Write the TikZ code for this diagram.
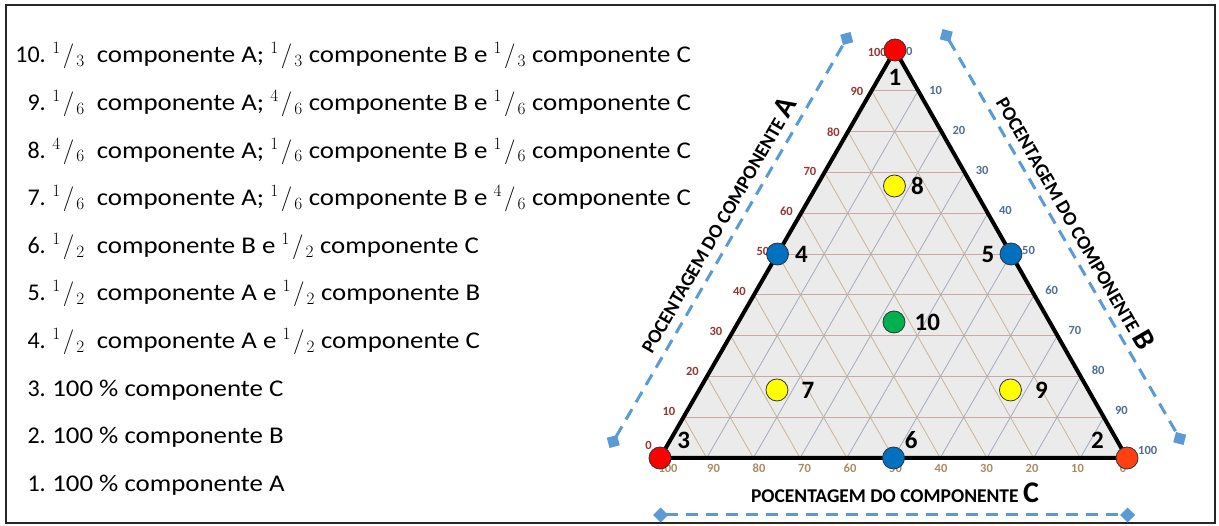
\documentclass[tikz,border=0pt]{standalone}
\usepackage{fontspec}
\setmainfont{Carlito}
\newfontfamily\listfont[FakeStretch=1.12]{Carlito}
\usetikzlibrary{arrows.meta,positioning,calc}

\definecolor{lineA}{HTML}{CDA6A6}
\definecolor{lineB}{HTML}{A3ABBD}
\definecolor{lineC}{HTML}{C9B497}
\definecolor{tickA}{HTML}{953735}
\definecolor{tickB}{HTML}{4F6E92}
\definecolor{tickC}{HTML}{A88A63}
\definecolor{guideblue}{HTML}{5B9BD5}
\definecolor{areagray}{HTML}{EBEBEB}
\definecolor{ptred}{HTML}{FF0000}
\definecolor{ptorange}{HTML}{FF4010}
\definecolor{ptblue}{HTML}{0070C0}
\definecolor{ptyellow}{HTML}{FFFF00}
\definecolor{ptgreen}{HTML}{00B050}

\newcommand{\fr}[2]{${}^{#1}\mkern1.5mu/\mkern1.5mu{}_{#2}$}

\begin{document}
\begin{tikzpicture}[x=1pt,y=-1pt,
  listnum/.style={inner sep=0pt, font=\fontsize{24}{28}\selectfont},
  listtxt/.style={inner sep=0pt, font=\listfont\fontsize{24}{28}\selectfont},
  marker/.style={circle, draw=black!80, line width=0.8pt, minimum size=22pt, inner sep=0pt},
  ptnum/.style={font=\fontsize{25}{30}\selectfont\bfseries, inner sep=1pt},
  tick/.style={font=\fontsize{12.5}{14}\selectfont\bfseries, inner sep=1pt},
  axtitle/.style={font=\fontsize{19.5}{22}\selectfont\bfseries, inner sep=0pt},
  guide/.style={guideblue, line width=3pt, dash pattern=on 12pt off 8pt,
    {Diamond[length=15pt,width=15pt]}-{Diamond[length=15pt,width=15pt]}}
]
\useasboundingbox (0,0) rectangle (1219,526);
\draw[line width=1.5pt, black!85] (6,5) rectangle (1215,523);

% list of mixtures
\foreach \n/\t [count=\i from 0] in {
  10/{\fr{1}{3}\ \ componente A; \fr{1}{3} componente B e \fr{1}{3} componente C},
  9/{\fr{1}{6}\ \ componente A; \fr{4}{6} componente B e \fr{1}{6} componente C},
  8/{\fr{4}{6}\ \ componente A; \fr{1}{6} componente B e \fr{1}{6} componente C},
  7/{\fr{1}{6}\ \ componente A; \fr{1}{6} componente B e \fr{4}{6} componente C},
  6/{\fr{1}{2}\ \ componente B e \fr{1}{2} componente C},
  5/{\fr{1}{2}\ \ componente A e \fr{1}{2} componente B},
  4/{\fr{1}{2}\ \ componente A e \fr{1}{2} componente C},
  3/{100 \% componente C},
  2/{100 \% componente B},
  1/{100 \% componente A}} {
  \node[listnum, anchor=base east] (n\n) at (46,{63+47.6*\i}) {\n.};
  \node[listtxt, anchor=base west] (t\n) at (n\n.base east) {\ \t};
}

% triangle and grid
\coordinate (T) at (895,50);
\coordinate (R) at (1127,458);
\coordinate (L) at (660,458);
\fill[areagray] (L) -- (R) -- (T) -- cycle;
\foreach \k in {1,...,9} {
  \draw[lineA, line width=0.8pt] ($(L)!\k/10!(T)$) -- ($(R)!\k/10!(T)$);
  \draw[lineB, line width=0.8pt] ($(T)!\k/10!(R)$) -- ($(L)!\k/10!(R)$);
  \draw[lineC, line width=0.8pt] ($(T)!\k/10!(L)$) -- ($(R)!\k/10!(L)$);
}
\draw[line width=4pt, line join=round] (L) -- (R) -- (T) -- cycle;

% scale values
\foreach \k in {0,...,10} {
  \pgfmathtruncatemacro{\v}{10*\k}
  \pgfmathsetmacro{\ay}{ifthenelse(\k==0,13,7-0.9*\k)}
  \pgfmathsetmacro{\by}{0.9*\k-1}
  \pgfmathsetmacro{\cx}{1.2*\k-4}
  \node[tick, text=tickA, anchor=east, xshift=-7pt, yshift=\ay pt] (ta\k) at ($(L)!\k/10!(T)$) {\v};
  \node[tick, text=tickB, anchor=west, xshift=10pt, yshift=\by pt] (tb\k) at ($(T)!\k/10!(R)$) {\v};
  \node[tick, text=tickC, anchor=north, xshift=\cx pt, yshift=-5pt] (tc\k) at ($(R)!\k/10!(L)$) {\v};
}

% axis titles
\coordinate (mA) at ($(L)!0.49!(T)$);
\coordinate (mB) at ($(T)!0.51!(R)$);
\node[axtitle, rotate=60] (titA) at ($(mA)!68pt!90:(T)$)
  {POCENTAGEM DO COMPONENTE {\fontsize{30}{32}\selectfont A}};
\node[axtitle, rotate=-60] (titB) at ($(mB)!72pt!-90:(T)$)
  {POCENTAGEM DO COMPONENTE {\fontsize{30}{32}\selectfont B}};
\node[axtitle, anchor=base] (titC) at (895,503)
  {POCENTAGEM DO COMPONENTE {\fontsize{30}{32}\selectfont C}};

% guide lines
\coordinate (ga1) at (609.5,448); \coordinate (ga2) at (850.5,32);
\coordinate (gb1) at (942.5,29);  \coordinate (gb2) at (1183.5,445);
\coordinate (gc1) at (653,515);   \coordinate (gc2) at (1135,515);
\draw[guide] (ga1) -- (ga2);
\draw[guide] (gb1) -- (gb2);
\draw[guide] (gc1) -- (gc2);

% mixtures
\node[marker, fill=ptred] (p1) at (T) {};
\node[marker, fill=ptorange] (p2) at (R) {};
\node[marker, fill=ptred] (p3) at (L) {};
\node[marker, fill=ptblue] (p4) at ($(L)!0.5!(T)$) {};
\node[marker, fill=ptblue] (p5) at ($(T)!0.5!(R)$) {};
\node[marker, fill=ptblue] (p6) at ($(L)!0.5!(R)$) {};
\node[marker, fill=ptyellow] (p7) at (barycentric cs:T=1,R=1,L=4) {};
\node[marker, fill=ptyellow] (p8) at (barycentric cs:T=4,R=1,L=1) {};
\node[marker, fill=ptyellow] (p9) at (barycentric cs:T=1,R=4,L=1) {};
\node[marker, fill=ptgreen] (p10) at (barycentric cs:T=1,R=1,L=1) {};

\node[ptnum, below=7pt of p1] (l1) {1};
\node[ptnum, above left=0pt and 14pt of p2] (l2) {2};
\node[ptnum, above right=0pt and 8pt of p3] (l3) {3};
\node[ptnum, right=5pt of p4] (l4) {4};
\node[ptnum, left=4pt of p5] (l5) {5};
\node[ptnum, above right=0pt and 2pt of p6] (l6) {6};
\node[ptnum, right=12pt of p7] (l7) {7};
\node[ptnum, right=4pt of p8] (l8) {8};
\node[ptnum, right=12pt of p9] (l9) {9};
\node[ptnum, right=8pt of p10] (l10) {10};
\end{tikzpicture}
\end{document}
